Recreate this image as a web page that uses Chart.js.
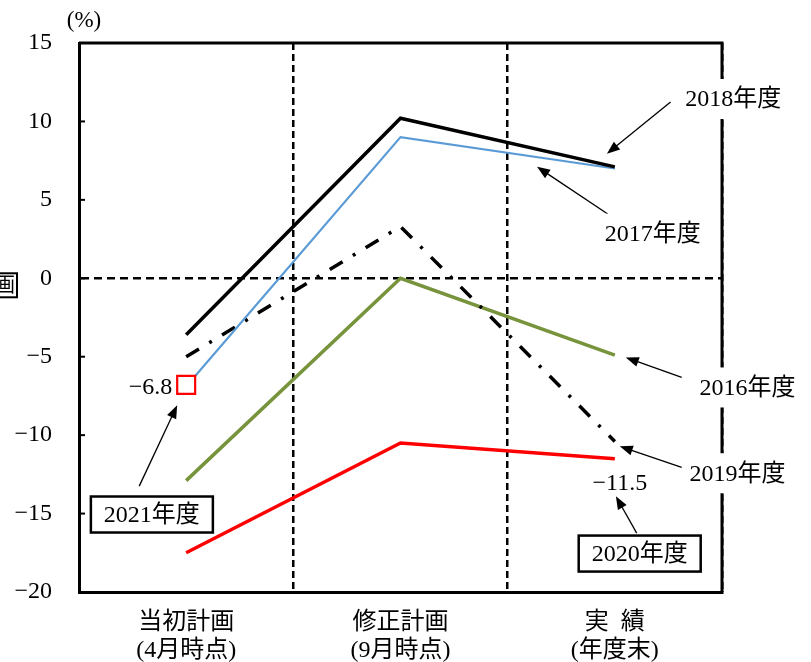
<!DOCTYPE html>
<html>
<head>
<meta charset="utf-8">
<script src="https://cdn.jsdelivr.net/npm/chart.js@4.4.1/dist/chart.umd.min.js"></script>
<style>
  body { margin: 0; background: #fff; }
</style>
</head>
<body>
<canvas id="myChart" width="811" height="662"></canvas>
<script>
// categories (two-line labels) and series values, %
const categories = [
  ["当初計画", "(4月時点)"],
  ["修正計画", "(9月時点)"],
  ["実\u2002績", "(年度末)"],
];
const fy2016 = [-12.9, 0.0, -4.9];
const fy2017 = [-6.9, 9.0, 7.0];
const fy2018 = [-3.6, 10.2, 7.1];
const fy2019 = [-5.0, 3.3, -10.4];
const fy2020 = [-17.5, -10.5, -11.5];
const fy2021 = [-6.8, null, null];
const yMin = -20;
const yMax = 15;
const yStep = 5;

const FONT = "'Liberation Serif', 'Noto Sans CJK JP', serif";
const minus = (v) => String(v).replace("-", "\u2212");

// callouts: position given as [category index, value]
const callouts = [
  { text: "2018年度", at: [2.553, 11.43], from: [2.26, 11.24], to: [1.963, 7.94], bg: true },
  { text: "2017年度", at: [2.177, 2.85], from: [1.967, 4.1], to: [1.637, 7.11], bg: true },
  { text: "2016年度", at: [2.619, -6.96], from: [2.312, -6.32], to: [2.051, -5.05], bg: true },
  { text: "2019年度", at: [2.572, -12.43], from: [2.312, -12.05], to: [2.023, -10.71], bg: true },
  { text: "2020年度", at: [2.116, -17.55], from: [2.102, -16.25], to: [2.005, -13.89], box: true },
  { text: "2021年度", at: [-0.16, -15.06], from: [-0.219, -13.25], to: [-0.042, -8.1], box: true },
];

function drawArrow(c, x1, y1, x2, y2) {
  const a = Math.atan2(y2 - y1, x2 - x1);
  const L = 13, W = 5;
  c.beginPath();
  c.moveTo(x1, y1);
  c.lineTo(x2 - (L - 2) * Math.cos(a), y2 - (L - 2) * Math.sin(a));
  c.stroke();
  c.beginPath();
  c.moveTo(x2, y2);
  c.lineTo(x2 - L * Math.cos(a) + W * Math.sin(a), y2 - L * Math.sin(a) - W * Math.cos(a));
  c.lineTo(x2 - L * Math.cos(a) - W * Math.sin(a), y2 - L * Math.sin(a) + W * Math.cos(a));
  c.closePath();
  c.fill();
}

const decorations = {
  id: "decorations",
  afterDraw(chart) {
    const c = chart.ctx;
    const xs = chart.scales.x;
    const ys = chart.scales.y;
    const area = chart.chartArea;
    const px = (p) => [xs.getPixelForValue(p[0]), ys.getPixelForValue(p[1])];

    c.save();
    // top and right frame
    c.strokeStyle = "#000";
    c.lineWidth = 3;
    c.beginPath();
    c.moveTo(area.left, area.top);
    c.lineTo(area.right, area.top);
    c.lineTo(area.right, area.bottom);
    c.stroke();

    // small tick marks inside the left axis
    c.lineWidth = 2;
    ys.ticks.forEach((t) => {
      const y = ys.getPixelForValue(t.value);
      c.beginPath();
      c.moveTo(area.left, y);
      c.lineTo(area.left + 6, y);
      c.stroke();
    });

    // "(%)" unit
    c.fillStyle = "#000";
    c.font = "23px " + FONT;
    c.textAlign = "center";
    c.textBaseline = "middle";
    c.fillText("(%)", area.left + 5, area.top - 22);

    // cut-off box at left edge
    const by = ys.getPixelForValue(0) + 7;
    c.fillStyle = "#fff";
    c.fillRect(-60, by - 12, 77, 24);
    c.strokeRect(-60, by - 12, 77, 24);
    c.fillStyle = "#000";
    c.font = "20px " + FONT;
    c.textAlign = "right";
    c.fillText("計画", 15, by + 1);

    // callouts
    c.font = "24px " + FONT;
    c.textAlign = "center";
    c.lineWidth = 1.3;
    callouts.forEach((n) => {
      const [fx, fy] = px(n.from);
      const [tx, ty] = px(n.to);
      c.strokeStyle = "#000";
      c.fillStyle = "#000";
      drawArrow(c, fx, fy, tx, ty);
      const [lx, ly] = px(n.at);
      const w = c.measureText(n.text).width;
      if (n.box) {
        c.fillStyle = "#fff";
        c.fillRect(lx - 61, ly - 18, 122, 36);
        c.lineWidth = 2.5;
        c.strokeRect(lx - 61, ly - 18, 122, 36);
        c.lineWidth = 1.3;
      } else if (n.bg) {
        c.fillStyle = "#fff";
        c.fillRect(lx - w / 2 - 6, ly - 20, w + 12, 40);
      }
      c.fillStyle = "#000";
      c.fillText(n.text, lx, ly + 1);
    });

    // value labels
    c.textAlign = "right";
    c.fillText(minus(fy2021[0]), xs.getPixelForValue(0) - 14, ys.getPixelForValue(fy2021[0]) + 3);
    c.textAlign = "center";
    c.fillText(minus(fy2020[2]), xs.getPixelForValue(2) + 5, ys.getPixelForValue(fy2020[2]) + 25);
    c.restore();
  },
};

new Chart(document.getElementById("myChart"), {
  type: "line",
  data: {
    labels: categories,
    datasets: [
      {
        label: "2021年度",
        data: fy2021,
        showLine: false,
        pointStyle: "rect",
        pointRadius: 12.7,
        pointBorderWidth: 2.2,
        pointBorderColor: "#ff0000",
        pointBackgroundColor: "#ffffff",
      },
      { label: "2018年度", data: fy2018, borderColor: "#000000", borderWidth: 3.5 },
      { label: "2017年度", data: fy2017, borderColor: "#5b9bd5", borderWidth: 2.2 },
      {
        label: "2019年度",
        data: fy2019,
        borderColor: "#000000",
        borderWidth: 3.5,
        borderDash: [15, 12, 3, 12],
      },
      { label: "2016年度", data: fy2016, borderColor: "#77933c", borderWidth: 3.5 },
      { label: "2020年度", data: fy2020, borderColor: "#ff0000", borderWidth: 3.5 },
    ],
  },
  options: {
    responsive: false,
    devicePixelRatio: 1,
    animation: false,
    layout: { padding: { top: 43, right: 89, left: 0, bottom: 0 } },
    elements: {
      point: { radius: 0 },
      line: { tension: 0, borderCapStyle: "butt", borderJoinStyle: "miter" },
    },
    plugins: {
      legend: { display: false },
      tooltip: { enabled: false },
    },
    scales: {
      x: {
        offset: true,
        grid: {
          offset: true,
          drawTicks: false,
          lineWidth: 2.5,
          color: (ctx) => (ctx.index === 0 || ctx.index === categories.length ? "rgba(0,0,0,0)" : "#000"),
        },
        border: { color: "#000", width: 3, dash: [7, 4] },
        ticks: {
          color: "#000",
          font: { family: FONT, size: 24, lineHeight: 1.2 },
          padding: 16,
          maxRotation: 0,
        },
        afterFit: (s) => { s.height = 70; },
      },
      y: {
        min: yMin,
        max: yMax,
        grid: {
          drawTicks: false,
          lineWidth: 2.5,
          color: (ctx) => (ctx.tick && ctx.tick.value === 0 ? "#000" : "rgba(0,0,0,0)"),
        },
        border: { color: "#000", width: 3, dash: [8, 5] },
        ticks: {
          stepSize: yStep,
          color: "#000",
          font: { family: FONT, size: 24 },
          padding: 27,
          callback: (v) => minus(v),
        },
        afterFit: (s) => { s.width = 79; },
      },
    },
  },
  plugins: [decorations],
});
</script>
</body>
</html>
